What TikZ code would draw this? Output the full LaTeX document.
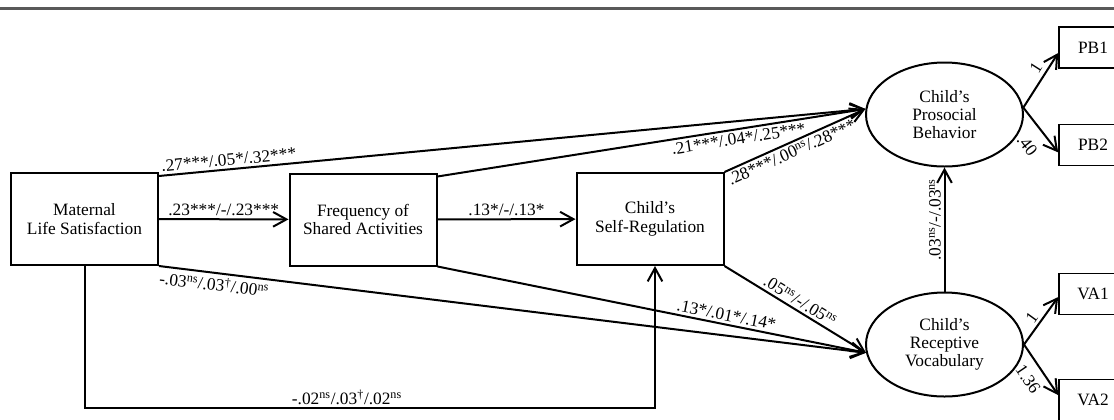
\documentclass[tikz,border=0pt]{standalone}
\usepackage{fontspec}
\setmainfont{Liberation Serif}
\usetikzlibrary{shapes.geometric, arrows.meta}
\tikzstyle{arrow} = [line width=1.5pt,-{Straight Barb[length=10pt,width=11pt]}]
\tikzstyle{box} = [draw, rectangle, line width=1.5pt, align=center, inner sep=0pt, minimum width=110.25pt, minimum height=69pt]
\tikzstyle{indic} = [draw, rectangle, line width=1.2pt, inner sep=0pt, minimum width=51pt, minimum height=31pt]
\tikzstyle{latent} = [draw, ellipse, line width=1.5pt, align=center, inner sep=0pt, minimum width=117.75pt, minimum height=78pt, font=\fontsize{13}{13.5}\selectfont]
\tikzstyle{coef} = [inner sep=2pt]
\newcommand{\nsig}{\textsuperscript{ns}}
\newcommand{\trend}{\textsuperscript{\textdagger}}

\begin{document}
\begin{tikzpicture}[x=0.75pt, y=-0.75pt, every node/.style={font=\fontsize{13}{14}\selectfont}]
        \useasboundingbox (0,0) rectangle (1114,419);
        \clip (0,0) rectangle (1114,419);
        % Rule at the top
        \draw[black!65, line width=1.6pt] (0,8.5) -- (1114,8.5);

        % Node positions
        \node[box] (mat) at (84.5,219) {Maternal\\Life Satisfaction};
        \node[box] (freq) at (363,219.5) {Frequency of\\Shared Activities};
        \node[box] (selfreg) at (650,219) {Child’s\\Self-Regulation};
        \node[latent] (pro) at (944.5,114.5) {Child’s\\Prosocial\\Behavior};
        \node[latent] (voc) at (944.5,344.5) {Child’s\\Receptive\\Vocabulary};
        \node[indic] (pb1) at (1093,47.5) {PB1};
        \node[indic] (pb2) at (1093,145) {PB2};
        \node[indic] (va1) at (1093,294) {VA1};
        \node[indic] (va2) at (1093,400) {VA2};
        \coordinate (turn) at (84.5,408);

        % Paths
        \draw[arrow] (mat) -- node[coef, above] {.23***/-/.23***} (freq);
        \draw[arrow] (freq) -- node[coef, above] {.13*/-/.13*} (selfreg);
        \draw[arrow] (mat.30) -- node[coef, above, sloped, pos=0.1] {.27***/.05*/.32***} (pro.176);
        \draw[arrow] (freq.30) -- node[coef, below, sloped, pos=0.7] {.21***/.04*/.25***} (pro.176);
        \draw[arrow] (selfreg.north east) -- node[coef, below, sloped, pos=0.45] {.28***/.00\nsig/.28***} (pro.176);
        \draw[arrow] (mat.south east) -- node[coef, below, sloped, pos=0.08] {-.03\nsig/.03\trend/.00\nsig} (voc.186);
        \draw[arrow] (freq.south east) -- node[coef, above, sloped, pos=0.67] {.13*/.01*/.14*} (voc.186);
        \draw[arrow] (selfreg.south east) -- node[coef, above, sloped, pos=0.5] {.05\nsig/-/.05\nsig} (voc.186);
        \draw[arrow] (voc) -- node[coef, above, sloped, pos=0.58] {.03\nsig/-/.03\nsig} (pro);
        \draw[arrow] (mat.south) -- (turn) -| node[coef, above, pos=0.23] {-.02\nsig/.03\trend/.02\nsig} ([xshift=3.75pt]selfreg.south);

        % Indicators
        \draw[arrow] (pro.5) -- node[coef, above=1pt, sloped, pos=0.62] {1} (pb1.189);
        \draw[arrow] (pro.5) -- node[coef, below=8pt, sloped, pos=0.57] {.40} (pb2.192);
        \draw[arrow] (voc.east) -- node[coef, above, sloped, pos=0.45] {1} (va1.185);
        \draw[arrow] (voc.east) -- node[coef, below=5pt, sloped, pos=0.51] {1.36} (va2.172);
\end{tikzpicture}
\end{document}
